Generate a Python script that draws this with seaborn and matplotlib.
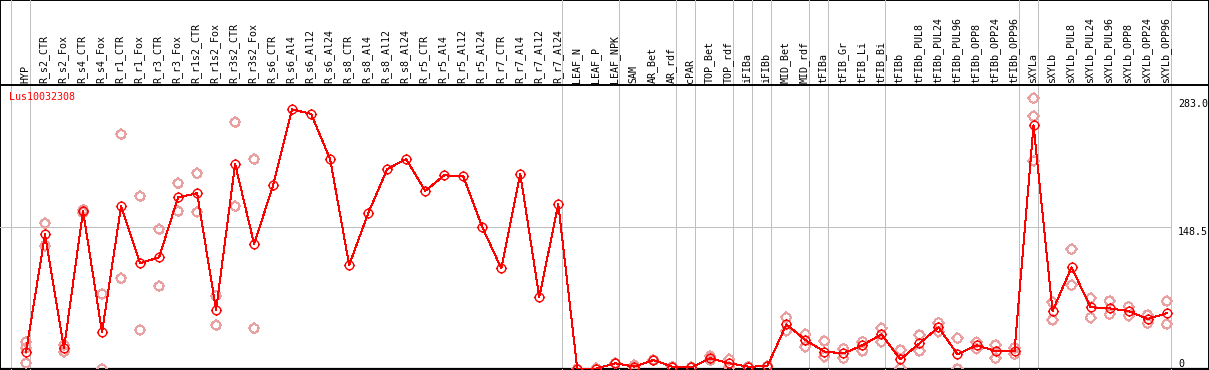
import numpy as np
import pandas as pd
import seaborn as sns
import matplotlib.pyplot as plt
from matplotlib.path import Path
from matplotlib.transforms import blended_transform_factory

# sample names (columns of the chart)
samples = ['HYP',
           'R_s2_CTR', 'R_s2_Fox', 'R_s4_CTR', 'R_s4_Fox', 'R_r1_CTR', 'R_r1_Fox',
           'R_r3_CTR', 'R_r3_Fox', 'R_r1s2_CTR', 'R_r1s2_Fox', 'R_r3s2_CTR', 'R_r3s2_Fox',
           'R_s6_CTR', 'R_s6_Al4', 'R_s6_Al12', 'R_s6_Al24',
           'R_s8_CTR', 'R_s8_Al4', 'R_s8_Al12', 'R_s8_Al24',
           'R_r5_CTR', 'R_r5_Al4', 'R_r5_Al12', 'R_r5_Al24',
           'R_r7_CTR', 'R_r7_Al4', 'R_r7_Al12', 'R_r7_Al24',
           'LEAF_N', 'LEAF_P', 'LEAF_NPK',
           'SAM', 'AR_Bet', 'AR_rdf', 'cPAR', 'TOP_Bet', 'TOP_rdf',
           'iFIBa', 'iFIBb', 'MID_Bet', 'MID_rdf',
           'tFIBa', 'tFIB_Gr', 'tFIB_Li', 'tFIB_Bi',
           'tFIBb', 'tFIBb_PUL8', 'tFIBb_PUL24', 'tFIBb_PUL96',
           'tFIBb_OPP8', 'tFIBb_OPP24', 'tFIBb_OPP96',
           'sXYLa', 'sXYLb', 'sXYLb_PUL8', 'sXYLb_PUL24', 'sXYLb_PUL96',
           'sXYLb_OPP8', 'sXYLb_OPP24', 'sXYLb_OPP96']

# mean expression per sample
means = [17.5, 141.2, 21.7, 165.6, 38.5, 170.5, 111.0, 117.0, 180.0, 184.2, 61.8, 214.9, 131.0,
         192.5, 272.2, 267.3, 219.8,
         109.0, 163.2, 209.6, 220.1,
         186.6, 203.0, 202.0, 148.8,
         105.5, 204.4, 75.5, 172.6,
         0.0, 0.5, 6.0,
         2.5, 9.4, 2.4, 1.7, 11.2, 6.0,
         2.4, 3.0, 46.8, 30.4,
         18.2, 16.4, 24.8, 36.3,
         10.1, 26.9, 43.7, 15.4,
         24.8, 18.9, 18.9,
         255.4, 60.8, 106.6, 64.7, 63.6,
         60.8, 52.4, 58.4]

# replicate values per sample (only the ones visible)
replicates = [[28.6, 22.0, 6.0], [152.7, 129.3], [25.2, 18.2], [167.0, 164.0], [78.6, 0.0],
              [246.0, 95.0], [181.0, 40.9], [146.4, 86.7], [194.6, 165.3], [205.0, 164.3],
              [76.9, 45.8], [258.6, 170.5], [219.8, 42.6],
              [], [], [], [], [], [], [], [], [], [], [], [], [], [], [], [],
              [0.0], [0.5], [6.0],
              [4.0, 1.0], [9.4], [2.4], [1.7], [13.5, 9.0], [10.0, 2.0],
              [2.4], [3.0], [54.0, 40.0], [36.3, 23.4],
              [29.3, 13.0], [21.3, 11.2], [28.6, 18.9], [42.6, 28.6],
              [19.9, 0.7], [35.6, 18.9], [48.6, 39.2], [32.1, 0.0],
              [28.0, 21.3], [25.2, 11.2], [22.4, 15.4],
              [283.7, 264.9, 218.3], [69.9, 51.4], [125.5, 87.7], [74.1, 53.8], [71.3, 57.3],
              [65.3, 55.9], [56.6, 47.9], [71.0, 46.9]]

# index of the last sample in each group (separator lines)
group_ends = [-1, 0, 28, 31, 34, 35, 37, 38, 39, 41, 42, 45, 52, 53, 60]

ytick_values = [283.0, 148.5, 0]
ytick_labels = ['283.0', '148.5', '0']
gene = 'Lus10032308'

df_mean = pd.DataFrame({'idx': np.arange(len(samples)), 'value': means})
rows = []
for i, reps in enumerate(replicates):
    for v in reps:
        rows.append((i, v))
df_rep = pd.DataFrame(rows, columns=['idx', 'value'])

# circle marker with four small ticks
stub = 1.3
circ_marker = Path.make_compound_path(
    Path.unit_circle(),
    Path([[0, 1], [0, stub]], [Path.MOVETO, Path.LINETO]),
    Path([[0, -1], [0, -stub]], [Path.MOVETO, Path.LINETO]),
    Path([[1, 0], [stub, 0]], [Path.MOVETO, Path.LINETO]),
    Path([[-1, 0], [-stub, 0]], [Path.MOVETO, Path.LINETO]),
)

W, H = 1209, 370
mono = 'DejaVu Sans Mono'
grey = '#c0c0c0'
pink = '#e8a0a0'
px = 0.72  # one pixel in points

fig = plt.figure(figsize=(W / 100, H / 100), dpi=100)

# outer frame
bg = fig.add_axes([0, 0, 1, 1])
bg.set_xticks([])
bg.set_yticks([])
for sp in bg.spines.values():
    sp.set_linewidth(1.4)
    sp.set_color('black')

ax = fig.add_axes([0, 1 / H, 1, 284 / H])
ax.patch.set_alpha(0)
step = 19.01
ax.set_xlim(-26 / step, (W - 26) / step)
ax.set_ylim(0, 284 / 0.954)

sns.scatterplot(data=df_rep, x='idx', y='value', ax=ax, marker=circ_marker, s=64,
                facecolor='none', edgecolor=pink, linewidth=px, zorder=3, legend=False,
                antialiased=False)
sns.lineplot(data=df_mean, x='idx', y='value', ax=ax, color='red', linewidth=px,
             marker=circ_marker, markersize=8.0, markerfacecolor='none',
             markeredgecolor='red', markeredgewidth=1.0, zorder=4, antialiased=False)

# gridlines
right_edge = 60.21
for e in group_ends:
    ax.axvline(e + 0.21, ymin=0, ymax=1.3, color=grey, linewidth=px, clip_on=False,
               zorder=1, antialiased=False)
ax.axhline(148.5, xmin=0, xmax=(right_edge + 26 / step) / (W / step), color=grey,
           linewidth=px, zorder=1, antialiased=False)

for sp in ['left', 'bottom', 'right']:
    ax.spines[sp].set_visible(False)
ax.spines['top'].set_linewidth(1.4)
ax.spines['top'].set_color('black')
ax.axhline(0, color='black', linewidth=1.6, zorder=2)

ax.set_xticks([])
ax.set_yticks([])
ax.set_xlabel('')
ax.set_ylabel('')

# sample labels in the header
trans = blended_transform_factory(ax.transData, ax.transAxes)
for i, name in enumerate(samples):
    ax.text(i - 0.05, 1.006, name, rotation=90, ha='center', va='bottom',
            fontsize=7.2, family=mono, transform=trans, clip_on=False)

# y labels on the right
ytrans = blended_transform_factory(ax.transAxes, ax.transData)
for v, lab in zip(ytick_values, ytick_labels):
    ax.text(1178 / W, v, lab, ha='left', va='top' if v > 0 else 'bottom',
            fontsize=7.2, family=mono, transform=ytrans)

fig.text(9 / W, 1 - 97 / H, gene, color='red', fontsize=7.2, family=mono,
         ha='left', va='center')

plt.savefig('out.png', dpi=100)
